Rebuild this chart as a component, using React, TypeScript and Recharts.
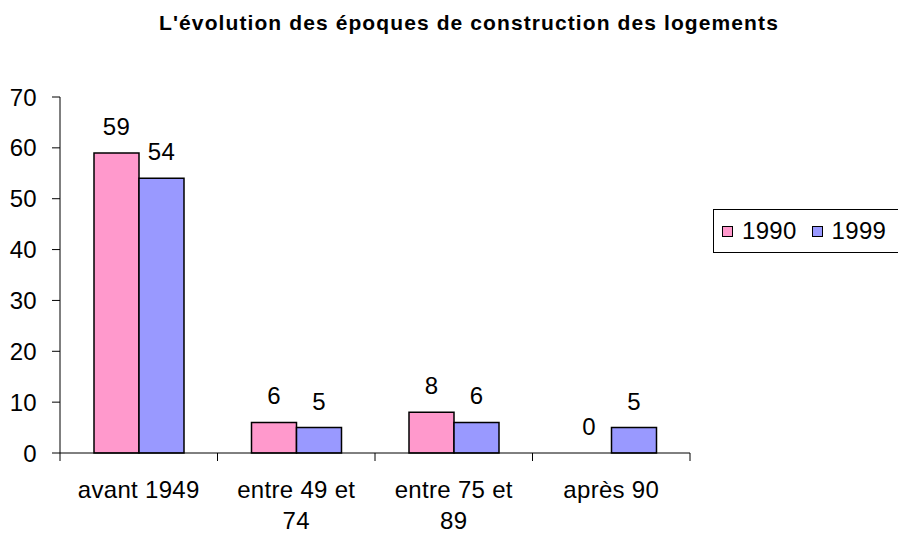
import { BarChart, Bar, XAxis, YAxis, Legend, LabelList, Cell } from 'recharts';

const categories = ['avant 1949', 'entre 49 et 74', 'entre 75 et 89', 'après 90'];
const values1990 = [59, 6, 8, 0];
const values1999 = [54, 5, 6, 5];
const yTicks = [0, 10, 20, 30, 40, 50, 60, 70];

const chartData = categories.map((name, i) => ({
  name,
  y1990: values1990[i],
  y1999: values1999[i],
}));

const FONT = '"Liberation Sans", Arial, Helvetica, sans-serif';
const FONT_SIZE = 24;
const SPACING = '0.3px';
const PLOT_W = 630;
const TICK_SIZE = 8;
const TICK_MARGIN = 21;
const MAX_CHARS = 11;

// greedy word wrap, Excel style
function wrap(label: string) {
  const lines: string[] = [];
  let cur = '';
  label.split(' ').forEach((w) => {
    const next = cur ? cur + ' ' + w : w;
    if (next.length > MAX_CHARS && cur) {
      lines.push(cur);
      cur = w;
    } else {
      cur = next;
    }
  });
  if (cur) lines.push(cur);
  return lines;
}

// category ticks: label centered, tick marks on the band edges
const CategoryTick = (props: any) => {
  const { x, y, payload, index } = props;
  const step = PLOT_W / categories.length;
  const axisY = y - TICK_SIZE - TICK_MARGIN;
  const lines = wrap(String(payload.value));
  return (
    <g>
      <line x1={x - step / 2} x2={x - step / 2} y1={axisY} y2={axisY + TICK_SIZE} stroke="#000" />
      {index === categories.length - 1 && (
        <line x1={x + step / 2} x2={x + step / 2} y1={axisY} y2={axisY + TICK_SIZE} stroke="#000" />
      )}
      <text
        x={x}
        y={y + 16}
        textAnchor="middle"
        fill="#000"
        fontSize={FONT_SIZE}
        style={{ letterSpacing: SPACING, fontFamily: FONT }}
      >
        {lines.map((l, i) => (
          <tspan key={i} x={x} dy={i === 0 ? 0 : 31}>
            {l}
          </tspan>
        ))}
      </text>
    </g>
  );
};

const LegendBox = ({ payload }: any) => (
  <div
    style={{
      border: '1px solid #000',
      height: 44,
      display: 'flex',
      alignItems: 'center',
      paddingLeft: 8,
      fontSize: FONT_SIZE,
      fontFamily: FONT,
      letterSpacing: SPACING,
      color: '#000',
      boxSizing: 'border-box',
    }}
  >
    {(payload || []).map((p: any) => (
      <span key={p.value} style={{ display: 'flex', alignItems: 'center', marginRight: 15 }}>
        <span
          style={{
            width: 9,
            height: 9,
            background: p.color,
            border: '1px solid #000',
            display: 'inline-block',
            marginRight: 9,
          }}
        />
        <span>{p.value}</span>
      </span>
    ))}
  </div>
);

export default function App() {
  return (
    <div
      style={{
        position: 'absolute',
        left: 0,
        top: 0,
        width: 898,
        height: 533,
        overflow: 'hidden',
        background: '#fff',
        fontFamily: FONT,
        letterSpacing: SPACING,
      }}
    >
      <div
        style={{
          position: 'absolute',
          left: 40,
          top: 11,
          width: 858,
          textAlign: 'center',
          fontWeight: 'bold',
          fontSize: 21,
          letterSpacing: '1.1px',
          color: '#000',
        }}
      >
        L'évolution des époques de construction des logements
      </div>
      <BarChart
        width={898}
        height={533}
        data={chartData}
        margin={{ top: 97, right: 208, left: 0, bottom: 10 }}
        barCategoryGap={34}
        barGap={0}
      >
        <XAxis
          dataKey="name"
          height={70}
          interval={0}
          axisLine={{ stroke: '#000' }}
          tickLine={false}
          tickSize={TICK_SIZE}
          tickMargin={TICK_MARGIN}
          tick={<CategoryTick />}
        />
        <YAxis
          width={60}
          domain={[0, 70]}
          ticks={yTicks}
          interval={0}
          axisLine={{ stroke: '#000' }}
          tickLine={{ stroke: '#000' }}
          tickSize={8}
          tickMargin={15}
          tick={{ fill: '#000', fontSize: FONT_SIZE, fontFamily: FONT }}
        />
        <Legend
          layout="horizontal"
          verticalAlign="middle"
          align="center"
          content={<LegendBox />}
          wrapperStyle={{ left: 713, top: 209, width: 200 }}
        />
        <Bar
          dataKey="y1990"
          name="1990"
          fill="#FF99CC"
          stroke="#000"
          strokeWidth={1.5}
          minPointSize={(v: number) => (v === 0 ? 0.01 : 0)}
          isAnimationActive={false}
        >
          {values1990.map((v, i) => (
            <Cell key={i} fill="#FF99CC" stroke={v === 0 ? 'none' : '#000'} />
          ))}
          <LabelList dataKey="y1990" position="top" offset={18} fill="#000" fontSize={FONT_SIZE} fontFamily={FONT} />
        </Bar>
        <Bar dataKey="y1999" name="1999" fill="#9999FF" stroke="#000" strokeWidth={1.5} isAnimationActive={false}>
          <LabelList dataKey="y1999" position="top" offset={18} fill="#000" fontSize={FONT_SIZE} fontFamily={FONT} />
        </Bar>
      </BarChart>
    </div>
  );
}
